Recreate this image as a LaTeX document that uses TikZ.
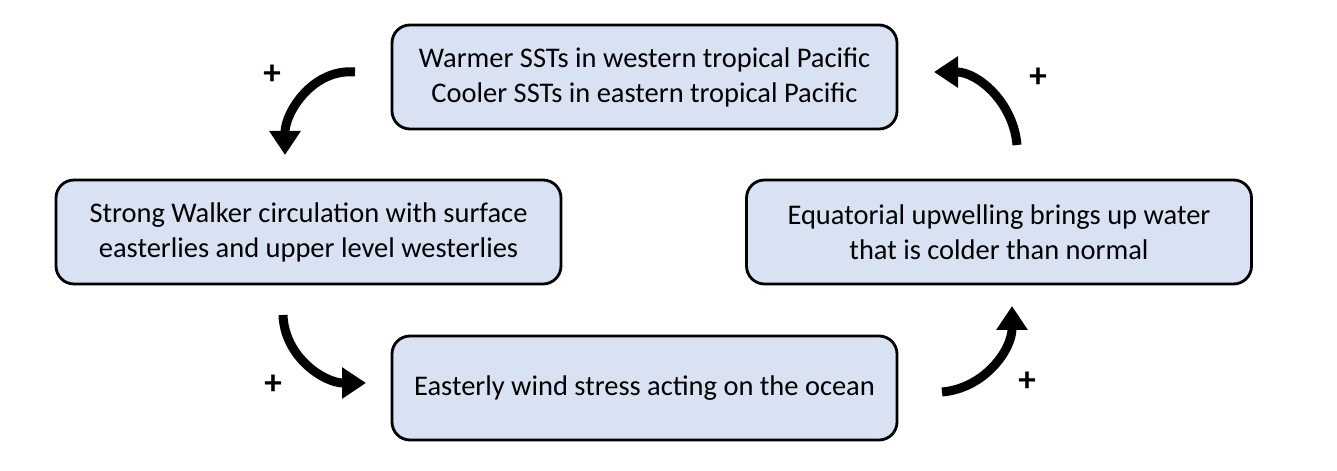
\documentclass[tikz,border=0pt]{standalone}
\usepackage{fontspec}
\setmainfont{Carlito}
\usepackage{tikz}
\usetikzlibrary{arrows.meta,positioning,calc}
\definecolor{boxblue}{RGB}{217,226,243}

\begin{document}
\begin{tikzpicture}[
        box/.style={rectangle, draw=black, fill=boxblue, line width=1.6pt, rounded corners=0.36cm,
            minimum width=10.1cm, minimum height=2.08cm, align=center,
            font=\fontsize{16.2}{19.9}\selectfont},
        loop/.style={line width=0.18cm, -{Triangle[width=0.6cm, length=0.48cm]}},
        sign/.style={font=\fontsize{20}{20}\selectfont\bfseries}
    ]
    \useasboundingbox (0,0) rectangle (26.74,9.42);
    \node[box] (sst) at (12.89,7.88) {Warmer SSTs in western tropical Pacific\\Cooler SSTs in eastern tropical Pacific};
    \node[box] (walker) at (6.17,4.78) {Strong Walker circulation with surface\\easterlies and upper level westerlies};
    \node[box] (stress) at (12.89,1.66) {Easterly wind stress acting on the ocean};
    \node[box] (upwell) at (19.98,4.78) {Equatorial upwelling brings up water\\that is colder than normal};
    % ends of the curved arrows
    \coordinate (a1) at (7.1,7.98);
    \coordinate (b1) at (5.7,6.32);
    \coordinate (a2) at (5.66,3.12);
    \coordinate (b2) at (7.32,1.76);
    \coordinate (a3) at (18.84,1.58);
    \coordinate (b3) at (20.24,3.3);
    \coordinate (a4) at (20.34,6.52);
    \coordinate (b4) at (18.68,7.98);
    \draw[loop] (a1) to[out=175, in=90] (b1);
    \draw[loop] (a2) to[out=-88, in=180] (b2);
    \draw[loop] (a3) to[out=5, in=-90] (b3);
    \draw[loop] (a4) to[out=95, in=0] (b4);
    \node[sign] (p1) at (5.44,7.92) {+};
    \node[sign] (p2) at (5.46,1.72) {+};
    \node[sign] (p3) at (20.54,1.78) {+};
    \node[sign] (p4) at (20.76,7.86) {+};
\end{tikzpicture}
\end{document}
